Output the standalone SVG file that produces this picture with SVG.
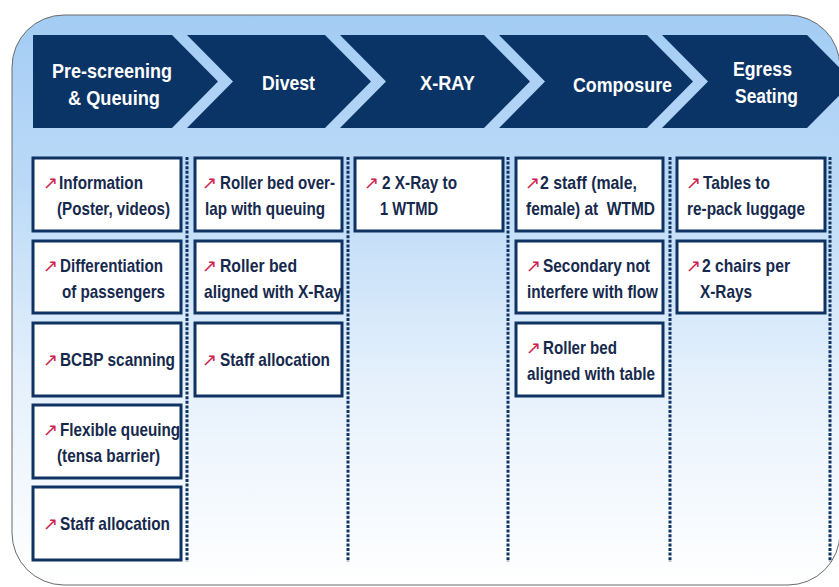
<svg xmlns="http://www.w3.org/2000/svg" width="839" height="587" viewBox="0 0 839 587">
<defs>
<linearGradient id="bg" x1="0" y1="0" x2="0" y2="1">
<stop offset="0" stop-color="#a3ccf4"/>
<stop offset="0.3" stop-color="#bcdaf7"/>
<stop offset="0.65" stop-color="#e6f1fc"/>
<stop offset="1" stop-color="#ffffff"/>
</linearGradient>
<style>
.hdr{fill:#0b3466}
.ht{font-family:"Liberation Sans",Arial,sans-serif;font-weight:bold;font-size:21px;fill:#ffffff}
.box{fill:#ffffff;stroke:#0e3262;stroke-width:3}
.bt{font-family:"Liberation Sans",Arial,sans-serif;font-weight:bold;font-size:19px;fill:#16294d;white-space:pre}
.bul{font-family:"DejaVu Sans",sans-serif;font-size:18px;fill:#d0204f}
.sep{stroke:#0e3262;stroke-width:3;stroke-dasharray:3 1.6;fill:none}
</style>
</defs>
<rect x="0" y="0" width="839" height="587" fill="#ffffff"/>
<rect x="12" y="15" width="828" height="570" rx="52" ry="52" fill="url(#bg)" stroke="#6b6b6b" stroke-width="1"/>

<g id="header">
<g id="h-prescreening">
<path class="hdr" d="M33,35 L172,35 L218,81.5 L172,128 L33,128 Z"/>
<text class="ht" x="52" y="78" textLength="120" lengthAdjust="spacingAndGlyphs">Pre-screening</text>
<text class="ht" x="68" y="105" textLength="92" lengthAdjust="spacingAndGlyphs">&amp; Queuing</text>
</g>
<g id="h-divest">
<path class="hdr" d="M187,35 L325,35 L371,81.5 L325,128 L187,128 L233,81.5 Z"/>
<text class="ht" x="262" y="90" textLength="53" lengthAdjust="spacingAndGlyphs">Divest</text>
</g>
<g id="h-xray">
<path class="hdr" d="M340,35 L484,35 L530,81.5 L484,128 L340,128 L386,81.5 Z"/>
<text class="ht" x="420" y="90" textLength="55" lengthAdjust="spacingAndGlyphs">X-RAY</text>
</g>
<g id="h-composure">
<path class="hdr" d="M499,35 L647,35 L693,81.5 L647,128 L499,128 L545,81.5 Z"/>
<text class="ht" x="573" y="92" textLength="99" lengthAdjust="spacingAndGlyphs">Composure</text>
</g>
<g id="h-egress">
<path class="hdr" d="M662,35 L807,35 L853,81.5 L807,128 L662,128 L708,81.5 Z"/>
<text class="ht" x="733" y="76" textLength="59" lengthAdjust="spacingAndGlyphs">Egress</text>
<text class="ht" x="735" y="103" textLength="63" lengthAdjust="spacingAndGlyphs">Seating</text>
</g>
</g>

<g id="separators">
<line class="sep" x1="187" y1="157" x2="187" y2="562"/>
<line class="sep" x1="348" y1="157" x2="348" y2="562"/>
<line class="sep" x1="508" y1="157" x2="508" y2="562"/>
<line class="sep" x1="670" y1="157" x2="670" y2="562"/>
<line class="sep" x1="830" y1="157" x2="830" y2="562"/>
</g>

<g id="c1r1">
<rect class="box" x="33" y="158" width="148" height="73"/>
<text class="bul" x="43" y="189">↗</text>
<text class="bt" x="59" y="189" textLength="84" lengthAdjust="spacingAndGlyphs">Information</text>
<text class="bt" x="57" y="215" textLength="113" lengthAdjust="spacingAndGlyphs">(Poster, videos)</text>
</g>
<g id="c1r2">
<rect class="box" x="33" y="241" width="148" height="72"/>
<text class="bul" x="43" y="272">↗</text>
<text class="bt" x="60" y="272" textLength="103" lengthAdjust="spacingAndGlyphs">Differentiation</text>
<text class="bt" x="62" y="298" textLength="103" lengthAdjust="spacingAndGlyphs">of passengers</text>
</g>
<g id="c1r3">
<rect class="box" x="33" y="323" width="148" height="73"/>
<text class="bul" x="43" y="366">↗</text>
<text class="bt" x="60" y="366" textLength="115" lengthAdjust="spacingAndGlyphs">BCBP scanning</text>
</g>
<g id="c1r4">
<rect class="box" x="33" y="405" width="148" height="73"/>
<text class="bul" x="43" y="436">↗</text>
<text class="bt" x="60" y="436" textLength="120" lengthAdjust="spacingAndGlyphs">Flexible queuing</text>
<text class="bt" x="57" y="462" textLength="103" lengthAdjust="spacingAndGlyphs">(tensa barrier)</text>
</g>
<g id="c1r5">
<rect class="box" x="33" y="487" width="148" height="73"/>
<text class="bul" x="43" y="530">↗</text>
<text class="bt" x="60" y="530" textLength="110" lengthAdjust="spacingAndGlyphs">Staff allocation</text>
</g>

<g id="c2r1">
<rect class="box" x="195" y="158" width="147" height="73"/>
<text class="bul" x="202" y="189">↗</text>
<text class="bt" x="220" y="189" textLength="115" lengthAdjust="spacingAndGlyphs">Roller bed over-</text>
<text class="bt" x="205" y="215" textLength="120" lengthAdjust="spacingAndGlyphs">lap with queuing</text>
</g>
<g id="c2r2">
<rect class="box" x="195" y="241" width="147" height="72"/>
<text class="bul" x="202" y="272">↗</text>
<text class="bt" x="220" y="272" textLength="77" lengthAdjust="spacingAndGlyphs">Roller bed</text>
<text class="bt" x="204" y="298" textLength="138" lengthAdjust="spacingAndGlyphs">aligned with X-Ray</text>
</g>
<g id="c2r3">
<rect class="box" x="195" y="323" width="147" height="73"/>
<text class="bul" x="202" y="366">↗</text>
<text class="bt" x="220" y="366" textLength="110" lengthAdjust="spacingAndGlyphs">Staff allocation</text>
</g>

<g id="c3r1">
<rect class="box" x="355" y="158" width="148" height="73"/>
<text class="bul" x="364" y="189">↗</text>
<text class="bt" x="382" y="189" textLength="75" lengthAdjust="spacingAndGlyphs">2 X-Ray to</text>
<text class="bt" x="380" y="215" textLength="58" lengthAdjust="spacingAndGlyphs">1 WTMD</text>
</g>

<g id="c4r1">
<rect class="box" x="516" y="158" width="147" height="73"/>
<text class="bul" x="525" y="189">↗</text>
<text class="bt" x="540" y="189" textLength="97" lengthAdjust="spacingAndGlyphs">2 staff (male,</text>
<text class="bt" x="526" y="215" textLength="129" lengthAdjust="spacingAndGlyphs">female) at  WTMD</text>
</g>
<g id="c4r2">
<rect class="box" x="516" y="241" width="147" height="72"/>
<text class="bul" x="526" y="272">↗</text>
<text class="bt" x="543" y="272" textLength="107" lengthAdjust="spacingAndGlyphs">Secondary not</text>
<text class="bt" x="527" y="298" textLength="131" lengthAdjust="spacingAndGlyphs">interfere with flow</text>
</g>
<g id="c4r3">
<rect class="box" x="516" y="323" width="147" height="73"/>
<text class="bul" x="526" y="354">↗</text>
<text class="bt" x="543" y="354" textLength="74" lengthAdjust="spacingAndGlyphs">Roller bed</text>
<text class="bt" x="527" y="380" textLength="128" lengthAdjust="spacingAndGlyphs">aligned with table</text>
</g>

<g id="c5r1">
<rect class="box" x="677" y="158" width="148" height="73"/>
<text class="bul" x="686" y="189">↗</text>
<text class="bt" x="703" y="189" textLength="67" lengthAdjust="spacingAndGlyphs">Tables to</text>
<text class="bt" x="687" y="215" textLength="118" lengthAdjust="spacingAndGlyphs">re-pack luggage</text>
</g>
<g id="c5r2">
<rect class="box" x="677" y="241" width="148" height="72"/>
<text class="bul" x="686" y="272">↗</text>
<text class="bt" x="702" y="272" textLength="88" lengthAdjust="spacingAndGlyphs">2 chairs per</text>
<text class="bt" x="700" y="298" textLength="52" lengthAdjust="spacingAndGlyphs">X-Rays</text>
</g>
</svg>
